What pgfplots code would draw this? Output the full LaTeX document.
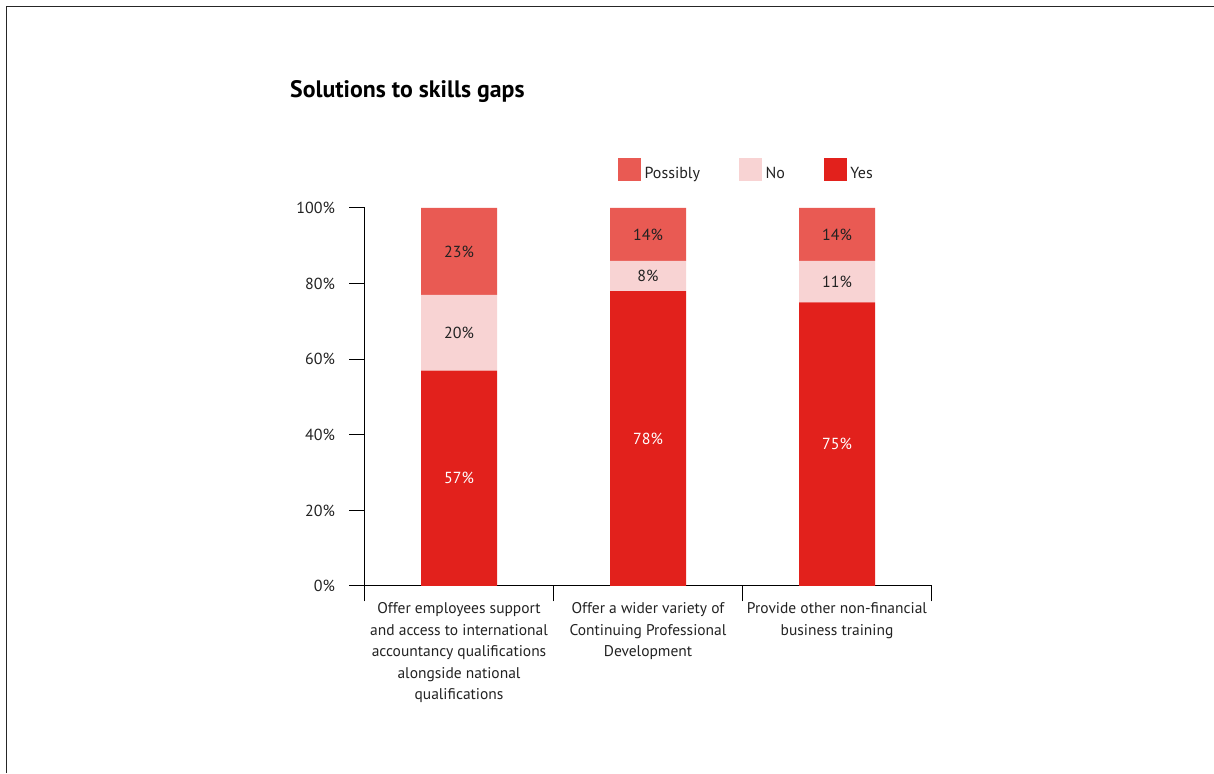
\documentclass[border=0pt]{standalone}
\usepackage{fontspec}
\setmainfont{PT Sans}
\usepackage{pgfplots}
\pgfplotsset{compat=1.18}
\definecolor{cPos}{HTML}{E95A53}
\definecolor{cNo}{HTML}{F8D3D3}
\definecolor{cYes}{HTML}{E2211C}
\definecolor{txt}{HTML}{222222}
\pgfplotsset{
  sq/.style={legend image code/.code={\fill[##1,draw=none] (0pt,-7.5pt) rectangle (23pt,15.5pt);}},
}
\begin{document}
\begin{tikzpicture}
\useasboundingbox (0,0) rectangle (1214pt,773pt);
\draw[line width=1.5pt, black!85] (6.5pt,0) -- (6.5pt,766.5pt) -- (1214pt,766.5pt);
\begin{axis}[
  at={(364.5pt,187pt)}, anchor=south west,
  scale only axis, width=567pt, height=378pt,
  ybar stacked, bar width=76pt,
  xmin=-0.5, xmax=2.5, ymin=0, ymax=100,
  enlargelimits=false,
  axis lines*=left,
  axis line style={line width=1pt, black},
  ytick={0,20,40,60,80,100},
  yticklabel={\pgfmathprintnumber{\tick}\%},
  /pgf/number format/assume math mode=true,
  tick align=outside,
  major tick length=15.5pt,
  tick style={line width=1pt, black},
  yticklabel style={font=\fontsize{16}{19}\selectfont, text=txt, xshift=-10.5pt},
  xtick={-0.5,0.5,1.5,2.5},
  xticklabels={,,,,},
  extra x ticks={0,1,2},
  extra x tick labels={{Offer employees support\\and access to international\\accountancy qualifications\\alongside national\\qualifications},{Offer a wider variety of\\Continuing Professional\\Development},{Provide other non-financial\\business training}},
  extra x tick style={major tick length=0pt, xticklabel style={anchor=north, align=center, font=\fontsize{15.5}{21.5}\selectfont, text=txt, yshift=-13pt}},
  nodes near coords={\pgfmathprintnumber{\pgfplotspointmeta}\%},
  every node near coord/.append style={anchor=center, font=\fontsize{16}{19}\selectfont, text=txt},
  legend columns=3, reverse legend,
  legend style={draw=none, fill=none, at={(0.675,1.1005)}, anchor=center, font=\fontsize{16}{19}\selectfont, text=txt, /tikz/every even column/.append style={column sep=35.5pt}, inner sep=0pt, nodes={inner ysep=2pt, inner xsep=3.5pt}},
  legend cell align=left,
]
\addplot[fill=cYes, draw=none, sq, every node near coord/.append style={text=white}] coordinates {(0,57) (1,78) (2,75)};
\addplot[fill=cNo, draw=none, sq] coordinates {(0,20) (1,8) (2,11)};
\addplot[fill=cPos, draw=none, sq] coordinates {(0,23) (1,14) (2,14)};
\legend{Yes,No,Possibly}
\end{axis}
\node[anchor=base west, inner sep=0pt, font=\bfseries\fontsize{23.8}{28}\selectfont] at (290pt,675pt) {Solutions to skills gaps};
\end{tikzpicture}
\end{document}
